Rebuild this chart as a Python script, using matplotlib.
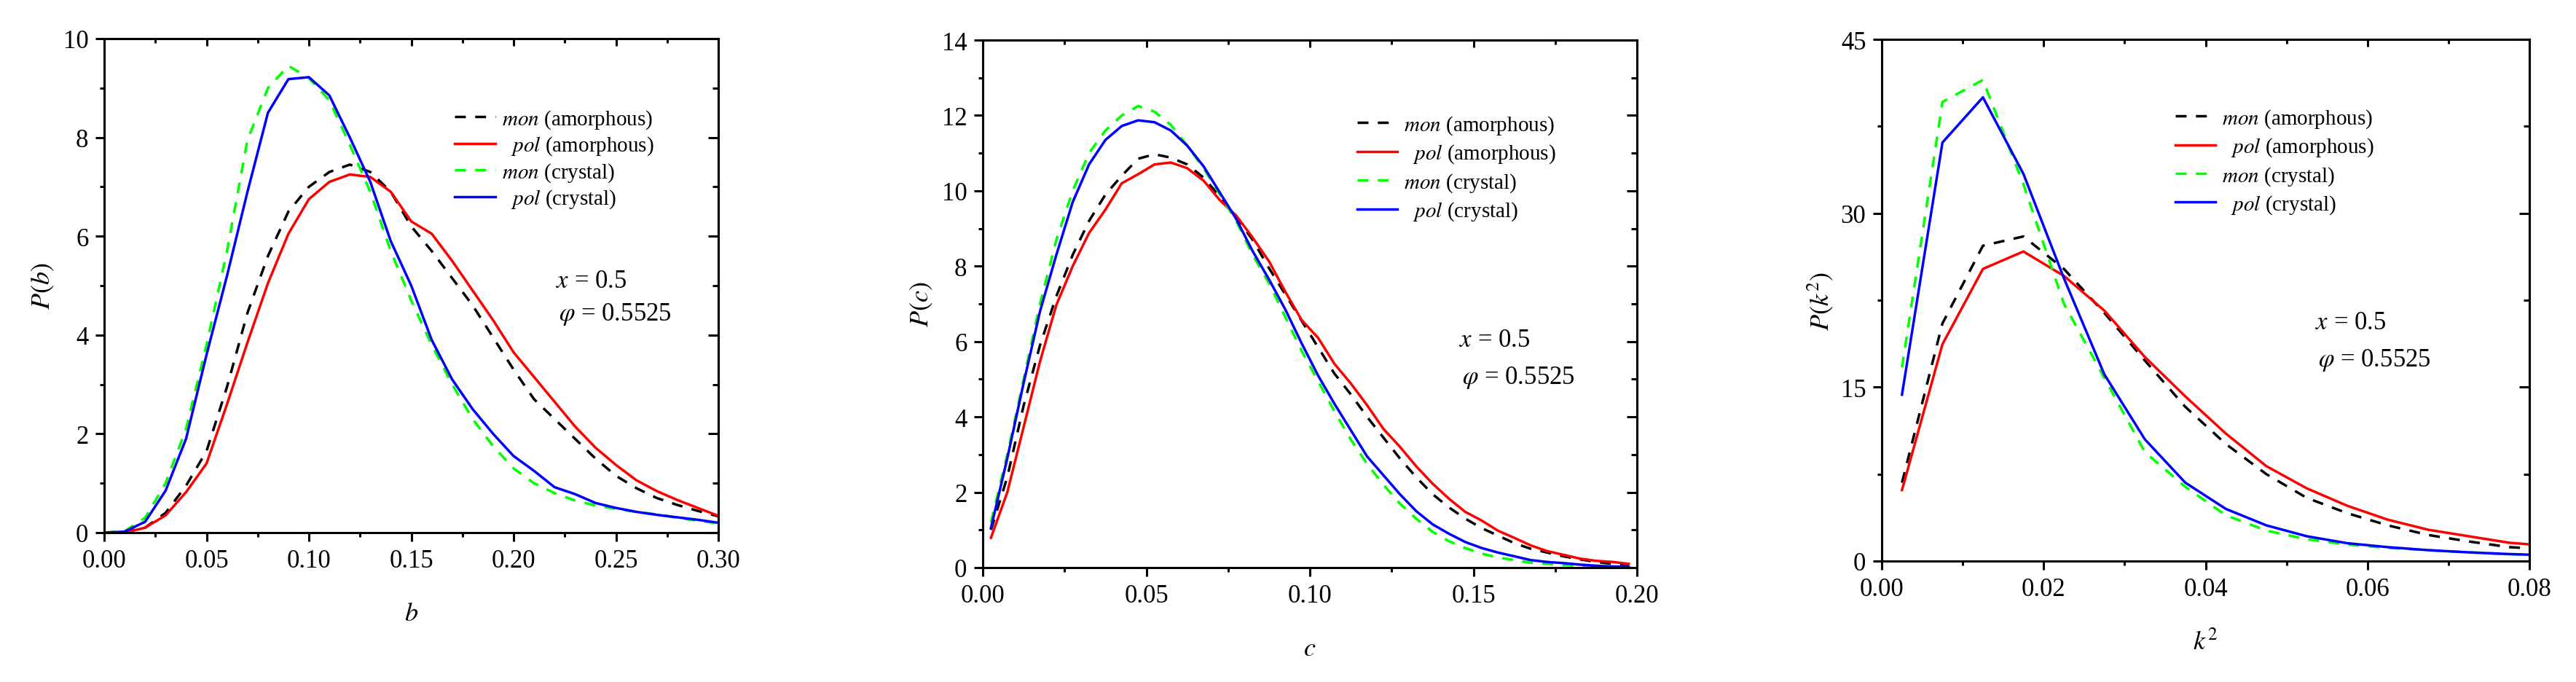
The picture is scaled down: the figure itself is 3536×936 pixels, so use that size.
import numpy as np
import matplotlib
matplotlib.use('Agg')
import matplotlib.pyplot as plt
from matplotlib.ticker import MultipleLocator, FormatStrFormatter

plt.rcParams['font.family'] = ['Liberation Serif', 'STIXGeneral', 'DejaVu Serif']
plt.rcParams['mathtext.fontset'] = 'stix'

# ---- panel 1: P(b) ----
b_vals = np.round(np.arange(0.0, 0.301, 0.01), 3)
pb_mon_amor = [0.0, 0.01, 0.1, 0.4, 0.95, 1.65, 2.95, 4.45, 5.6, 6.5, 7.0, 7.3, 7.45, 7.3, 6.9,
               6.2, 5.7, 5.15, 4.6, 3.95, 3.3, 2.7, 2.3, 1.9, 1.5, 1.15, 0.9, 0.7, 0.56, 0.44, 0.33]
pb_pol_amor = [0.0, 0.0, 0.1, 0.35, 0.82, 1.4, 2.6, 3.85, 5.05, 6.05, 6.75, 7.1, 7.25, 7.2, 6.9,
               6.3, 6.05, 5.5, 4.9, 4.3, 3.65, 3.15, 2.65, 2.15, 1.72, 1.37, 1.06, 0.84, 0.66, 0.5, 0.34]
pb_mon_cryst = [0.0, 0.03, 0.3, 1.0, 2.1, 3.8, 5.7, 7.95, 9.0, 9.45, 9.2, 8.75, 7.85, 6.9, 5.7,
                4.7, 3.8, 3.0, 2.3, 1.75, 1.3, 1.0, 0.8, 0.65, 0.55, 0.48, 0.42, 0.37, 0.3, 0.24, 0.19]
pb_pol_cryst = [0.0, 0.02, 0.22, 0.85, 1.9, 3.6, 5.2, 6.9, 8.5, 9.18, 9.22, 8.85, 8.0, 7.1, 5.9,
                5.0, 3.9, 3.1, 2.5, 2.0, 1.55, 1.25, 0.92, 0.78, 0.6, 0.5, 0.42, 0.36, 0.31, 0.26, 0.2]

# ---- panel 2: P(c) ----
c_vals = np.round(0.0025 + 0.005 * np.arange(40), 4)
pc_mon_amor = [1.0, 2.4, 4.3, 5.9, 7.2, 8.3, 9.2, 9.9, 10.4, 10.85, 10.97, 10.88, 10.7, 10.35,
               9.85, 9.3, 8.7, 7.95, 7.25, 6.55, 5.85, 5.15, 4.6, 4.0, 3.45, 2.9, 2.4, 1.95,
               1.6, 1.3, 1.05, 0.85, 0.65, 0.5, 0.4, 0.3, 0.22, 0.15, 0.1, 0.05]
pc_pol_amor = [0.79, 2.0, 3.73, 5.47, 6.97, 8.0, 8.88, 9.5, 10.2, 10.44, 10.7, 10.75, 10.6, 10.27,
               9.75, 9.34, 8.76, 8.13, 7.32, 6.57, 6.1, 5.41, 4.89, 4.31, 3.68, 3.21, 2.69, 2.23,
               1.83, 1.48, 1.25, 0.98, 0.79, 0.59, 0.44, 0.34, 0.24, 0.18, 0.15, 0.1]
pc_mon_cryst = [1.2, 3.0, 5.0, 7.0, 8.7, 10.0, 11.0, 11.6, 12.0, 12.25, 12.1, 11.75, 11.2, 10.6,
                9.9, 9.2, 8.3, 7.55, 6.65, 5.75, 4.95, 4.15, 3.4, 2.75, 2.2, 1.7, 1.3, 0.95,
                0.7, 0.52, 0.37, 0.27, 0.2, 0.13, 0.1, 0.07, 0.05, 0.03, 0.02, 0.01]
pc_pol_cryst = [1.05, 2.9, 4.9, 6.8, 8.3, 9.7, 10.7, 11.35, 11.72, 11.87, 11.82, 11.6, 11.2, 10.65,
                9.95, 9.25, 8.4, 7.65, 6.85, 5.95, 5.1, 4.35, 3.65, 2.95, 2.45, 1.95, 1.5, 1.15,
                0.9, 0.68, 0.52, 0.4, 0.3, 0.2, 0.15, 0.12, 0.08, 0.05, 0.03, 0.02]

# ---- panel 3: P(k^2) ----
k2_vals = np.round(0.0025 + 0.005 * np.arange(17), 4)
pk_mon_amor = [6.76, 20.5, 27.2, 28.0, 25.2, 21.4, 17.3, 13.3, 10.1, 7.5, 5.45, 4.13, 3.08,
               2.25, 1.69, 1.2, 1.0]
pk_pol_amor = [6.12, 18.7, 25.2, 26.7, 24.6, 21.6, 17.6, 14.2, 11.0, 8.19, 6.27, 4.77, 3.57,
               2.7, 2.14, 1.58, 1.3]
pk_mon_cryst = [16.7, 39.6, 41.5, 32.5, 22.2, 15.8, 9.4, 6.4, 3.95, 2.63, 1.88, 1.43, 1.13,
                0.94, 0.75, 0.6, 0.5]
pk_pol_cryst = [14.35, 36.1, 40.0, 33.4, 24.4, 16.1, 10.5, 6.76, 4.5, 3.08, 2.14, 1.54, 1.2,
                0.94, 0.75, 0.6, 0.5]

legend_labels = [r'$\mathit{mon}$ (amorphous)', r'  $\mathit{pol}$ (amorphous)',
                 r'$\mathit{mon}$ (crystal)', r'  $\mathit{pol}$ (crystal)']

W, H = 3536, 937
LW = 2.5
DASH = (4.3, 3.7)
fig = plt.figure(figsize=(W / 100, H / 100), dpi=100)


def make_axes(box):
    # box in pixels: left, top, right, bottom
    l, t, r, b = box
    return fig.add_axes([l / W, 1 - b / H, (r - l) / W, (b - t) / H])


def style_axes(ax, xlim, ylim, xmajor, ymajor, xfmt):
    ax.set_xlim(*xlim)
    ax.set_ylim(*ylim)
    ax.xaxis.set_major_locator(MultipleLocator(xmajor))
    ax.xaxis.set_minor_locator(MultipleLocator(xmajor / 2))
    ax.yaxis.set_major_locator(MultipleLocator(ymajor))
    ax.yaxis.set_minor_locator(MultipleLocator(ymajor / 2))
    ax.xaxis.set_major_formatter(FormatStrFormatter(xfmt))
    ax.tick_params(which='both', direction='out', width=2.2, labelsize=25, pad=7)
    ax.tick_params(which='major', length=8.5)
    ax.tick_params(which='minor', length=4.3)
    for s in ax.spines.values():
        s.set_linewidth(2.2)

    # mirrored axes with inward ticks
    top = ax.secondary_xaxis('top')
    top.xaxis.set_major_locator(MultipleLocator(xmajor))
    top.xaxis.set_minor_locator(MultipleLocator(xmajor / 2))
    top.tick_params(which='both', direction='in', width=2.2, labeltop=False)
    top.tick_params(which='major', length=7)
    top.tick_params(which='minor', length=4.3)
    top.spines['top'].set_linewidth(2.2)
    right = ax.secondary_yaxis('right')
    right.yaxis.set_major_locator(MultipleLocator(ymajor))
    right.yaxis.set_minor_locator(MultipleLocator(ymajor / 2))
    right.tick_params(which='both', direction='in', width=2.2, labelright=False)
    right.tick_params(which='major', length=10)
    right.tick_params(which='minor', length=5.5)
    right.spines['right'].set_linewidth(2.2)


def draw_curves(ax, x, mon_amor, pol_amor, mon_cryst, pol_cryst):
    ax.plot(x, mon_amor, color='black', lw=LW, dashes=DASH, label=legend_labels[0])
    ax.plot(x, pol_amor, color='#ff0000', lw=LW, label=legend_labels[1])
    ax.plot(x, mon_cryst, color='#00ff00', lw=LW, dashes=DASH, label=legend_labels[2])
    ax.plot(x, pol_cryst, color='#0000ff', lw=LW, label=legend_labels[3])


def finish(ax, box, xlabel, ylabel, leg_xy, spacing, note_xy, note_gap):
    l, t, r, b = box
    w, h = r - l, b - t
    ax.set_xlabel(xlabel, fontsize=26, va='center')
    ax.xaxis.set_label_coords(0.5, -112 / h)
    ax.set_ylabel(ylabel, fontsize=26, va='center')
    ax.yaxis.set_label_coords(-84 / w, 0.5)
    ax.legend(loc='upper left', bbox_to_anchor=leg_xy, frameon=False, fontsize=21,
              borderpad=0, borderaxespad=0, handlelength=1.9, handletextpad=0.3,
              labelspacing=spacing)
    ax.text(note_xy[0], note_xy[1], r'$x$ = 0.5', transform=ax.transAxes,
            fontsize=25, ha='left', va='center')
    ax.text(note_xy[0] + 0.005, note_xy[1] - note_gap / h, r'$\varphi$ = 0.5525',
            transform=ax.transAxes, fontsize=25, ha='left', va='center')


box1 = (143, 54, 986, 732)
ax1 = make_axes(box1)
draw_curves(ax1, b_vals, pb_mon_amor, pb_pol_amor, pb_mon_cryst, pb_pol_cryst)
style_axes(ax1, (0, 0.30), (0, 10), 0.05, 2, '%.2f')
finish(ax1, box1, r'$b$', r'$P(b)$', (0.571, 0.86), 0.2, (0.735, 0.509), 45)

box2 = (1349, 56, 2247, 780)
ax2 = make_axes(box2)
draw_curves(ax2, c_vals, pc_mon_amor, pc_pol_amor, pc_mon_cryst, pc_pol_cryst)
style_axes(ax2, (0, 0.20), (0, 14), 0.05, 2, '%.2f')
finish(ax2, box2, r'$c$', r'$P(c)$', (0.572, 0.86), 0.3, (0.728, 0.432), 51)

box3 = (2583, 55, 3472, 771)
ax3 = make_axes(box3)
draw_curves(ax3, k2_vals, pk_mon_amor, pk_pol_amor, pk_mon_cryst, pk_pol_cryst)
style_axes(ax3, (0, 0.08), (0, 45), 0.02, 15, '%.2f')
finish(ax3, box3, r'$k^2$', r'$P(k^2)$', (0.453, 0.87), 0.3, (0.669, 0.457), 51)

fig.savefig('out.png', dpi=100)
